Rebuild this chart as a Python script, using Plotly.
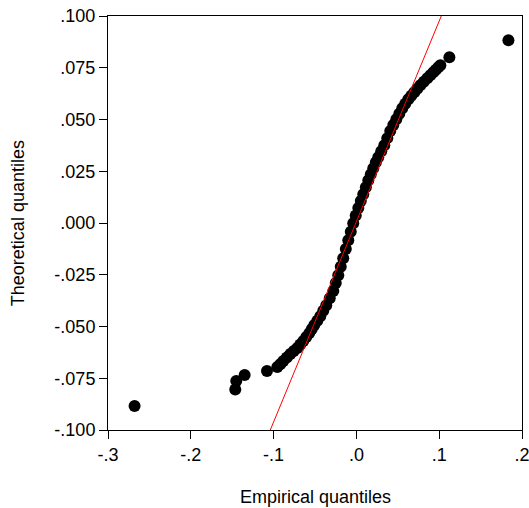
import plotly.graph_objects as go

# Empirical quantiles (x) and theoretical quantiles (y)
emp_q = [-0.2679, -0.1463, -0.1451, -0.1350, -0.1080,
         -0.0955, -0.0920, -0.0883, -0.0840, -0.0798, -0.0756, -0.0714, -0.0678,
         -0.0641, -0.0605, -0.0569, -0.0538, -0.0508, -0.0472, -0.0436, -0.0400,
         -0.0364, -0.0322, -0.0279, -0.0249, -0.0219, -0.0189, -0.0159, -0.0128,
         -0.0098, -0.0068, -0.0038, -0.0008, 0.0023, 0.0053, 0.0083, 0.0114,
         0.0144, 0.0174, 0.0204, 0.0234, 0.0264, 0.0300, 0.0337, 0.0373,
         0.0409, 0.0446, 0.0482, 0.0518, 0.0554, 0.0590, 0.0627, 0.0663,
         0.0699, 0.0736, 0.0772, 0.0814, 0.0856, 0.0893, 0.0929, 0.0960,
         0.0989, 0.1014, 0.1123, 0.1836]
theo_q = [-0.0884, -0.0804, -0.0763, -0.0734, -0.0715,
          -0.0696, -0.0682, -0.0667, -0.0650, -0.0633, -0.0618, -0.0604, -0.0587,
          -0.0570, -0.0551, -0.0532, -0.0512, -0.0493, -0.0472, -0.0450, -0.0424,
          -0.0397, -0.0363, -0.0329, -0.0290, -0.0252, -0.0211, -0.0170, -0.0126,
          -0.0083, -0.0042, -0.0001, 0.0036, 0.0072, 0.0106, 0.0139, 0.0173,
          0.0207, 0.0236, 0.0265, 0.0292, 0.0318, 0.0347, 0.0376, 0.0410,
          0.0444, 0.0473, 0.0501, 0.0528, 0.0554, 0.0576, 0.0598, 0.0615,
          0.0632, 0.0649, 0.0665, 0.0682, 0.0699, 0.0714, 0.0728, 0.0740,
          0.0752, 0.0762, 0.0801, 0.0883]

# Reference line endpoints
line_x = [-0.104, 0.1025]
line_y = [-0.100, 0.100]

x_ticks = [-0.3, -0.2, -0.1, 0.0, 0.1, 0.2]
x_labels = ["-.3", "-.2", "-.1", ".0", ".1", ".2"]
y_ticks = [-0.100, -0.075, -0.050, -0.025, 0.000, 0.025, 0.050, 0.075, 0.100]
y_labels = ["-.100", "-.075", "-.050", "-.025", ".000", ".025", ".050", ".075", ".100"]

FONT = "Liberation Sans, Arial, Helvetica, sans-serif"

fig = go.Figure()
fig.add_trace(go.Scatter(
    x=emp_q, y=theo_q, mode="markers",
    marker=dict(color="black", size=12, line=dict(width=0)),
    showlegend=False, hoverinfo="skip", cliponaxis=False))
fig.add_trace(go.Scatter(
    x=line_x, y=line_y, mode="lines",
    line=dict(color="red", width=1),
    showlegend=False, hoverinfo="skip"))

axis_common = dict(
    showgrid=False, zeroline=False, showline=True, linecolor="black",
    linewidth=1, mirror=True, ticks="outside", ticklen=8, tickcolor="black",
    tickwidth=1, ticklabeloverflow="allow", automargin=False,
    tickfont=dict(family=FONT, size=18, color="black"))

fig.update_xaxes(range=[-0.3, 0.2], tickvals=x_ticks, ticktext=x_labels,
                 **axis_common)
fig.update_yaxes(range=[-0.1, 0.1], tickvals=y_ticks, ticktext=y_labels,
                 **axis_common)

fig.update_layout(
    width=529, height=508,
    margin=dict(l=108, r=7, t=16, b=78),
    paper_bgcolor="white", plot_bgcolor="white",
    font=dict(family=FONT, size=18, color="black"),
    annotations=[
        dict(text="Empirical quantiles", xref="paper", yref="paper",
             x=0.5, y=-0.162, xanchor="center", yanchor="middle",
             showarrow=False, font=dict(family=FONT, size=18, color="black")),
        dict(text="Theoretical quantiles", xref="paper", yref="paper",
             x=-0.217, y=0.5, xanchor="center", yanchor="middle",
             textangle=-90, showarrow=False,
             font=dict(family=FONT, size=18, color="black")),
    ],
)

fig.write_html(
    "out.html",
    config={"displayModeBar": False},
    post_script="document.body.style.margin='0';document.body.style.overflow='hidden';",
)
